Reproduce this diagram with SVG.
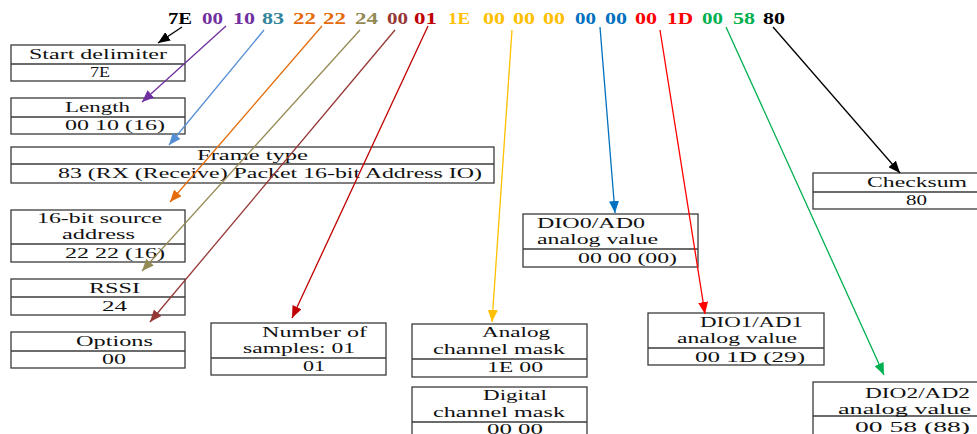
<svg xmlns="http://www.w3.org/2000/svg" width="977" height="434" viewBox="0 0 977 434">
<style>
.box{fill:#fff;stroke:#3a3a3a;stroke-width:1.3}
.div{stroke:#3a3a3a;stroke-width:1.3}
.t{font-family:"Liberation Serif","Times New Roman",serif;font-size:15px;fill:#111}
.h{font-family:"Liberation Serif","Times New Roman",serif;font-size:16px;font-weight:bold}
.c{fill:none;stroke-width:1.3}
</style>
<defs>
<marker id="mk" markerUnits="userSpaceOnUse" markerWidth="12" markerHeight="10" refX="12" refY="5" orient="auto"><path d="M0,0 L12,5 L0,10 z" fill="#000"/></marker>
<marker id="mpu" markerUnits="userSpaceOnUse" markerWidth="12" markerHeight="10" refX="12" refY="5" orient="auto"><path d="M0,0 L12,5 L0,10 z" fill="#7030A0"/></marker>
<marker id="mlb" markerUnits="userSpaceOnUse" markerWidth="12" markerHeight="10" refX="12" refY="5" orient="auto"><path d="M0,0 L12,5 L0,10 z" fill="#558ED5"/></marker>
<marker id="mor" markerUnits="userSpaceOnUse" markerWidth="12" markerHeight="10" refX="12" refY="5" orient="auto"><path d="M0,0 L12,5 L0,10 z" fill="#E46C0A"/></marker>
<marker id="mol" markerUnits="userSpaceOnUse" markerWidth="12" markerHeight="10" refX="12" refY="5" orient="auto"><path d="M0,0 L12,5 L0,10 z" fill="#948A54"/></marker>
<marker id="mbr" markerUnits="userSpaceOnUse" markerWidth="12" markerHeight="10" refX="12" refY="5" orient="auto"><path d="M0,0 L12,5 L0,10 z" fill="#953735"/></marker>
<marker id="mdr" markerUnits="userSpaceOnUse" markerWidth="12" markerHeight="10" refX="12" refY="5" orient="auto"><path d="M0,0 L12,5 L0,10 z" fill="#C00000"/></marker>
<marker id="mgo" markerUnits="userSpaceOnUse" markerWidth="12" markerHeight="10" refX="12" refY="5" orient="auto"><path d="M0,0 L12,5 L0,10 z" fill="#FFC000"/></marker>
<marker id="mbl" markerUnits="userSpaceOnUse" markerWidth="12" markerHeight="10" refX="12" refY="5" orient="auto"><path d="M0,0 L12,5 L0,10 z" fill="#0070C0"/></marker>
<marker id="mre" markerUnits="userSpaceOnUse" markerWidth="12" markerHeight="10" refX="12" refY="5" orient="auto"><path d="M0,0 L12,5 L0,10 z" fill="#FF0000"/></marker>
<marker id="mgr" markerUnits="userSpaceOnUse" markerWidth="12" markerHeight="10" refX="12" refY="5" orient="auto"><path d="M0,0 L12,5 L0,10 z" fill="#00B050"/></marker>
</defs>
<rect width="977" height="434" fill="#fff"/>

<g id="header">
<text class="h" x="168" y="24" textLength="24" lengthAdjust="spacingAndGlyphs" fill="#000">7E</text>
<text class="h" x="202" y="24" textLength="21" lengthAdjust="spacingAndGlyphs" fill="#7030A0">00</text>
<text class="h" x="233" y="24" textLength="22" lengthAdjust="spacingAndGlyphs" fill="#7030A0">10</text>
<text class="h" x="262" y="24" textLength="22" lengthAdjust="spacingAndGlyphs" fill="#31849B">83</text>
<text class="h" x="293" y="24" textLength="23" lengthAdjust="spacingAndGlyphs" fill="#E46C0A">22</text>
<text class="h" x="323" y="24" textLength="23" lengthAdjust="spacingAndGlyphs" fill="#E46C0A">22</text>
<text class="h" x="355" y="24" textLength="23" lengthAdjust="spacingAndGlyphs" fill="#948A54">24</text>
<text class="h" x="387" y="24" textLength="21" lengthAdjust="spacingAndGlyphs" fill="#953735">00</text>
<text class="h" x="414" y="24" textLength="23" lengthAdjust="spacingAndGlyphs" fill="#C00000">01</text>
<text class="h" x="448" y="24" textLength="22" lengthAdjust="spacingAndGlyphs" fill="#FFC000">1E</text>
<text class="h" x="483" y="24" textLength="22" lengthAdjust="spacingAndGlyphs" fill="#FFC000">00</text>
<text class="h" x="513" y="24" textLength="22" lengthAdjust="spacingAndGlyphs" fill="#FFC000">00</text>
<text class="h" x="543" y="24" textLength="22" lengthAdjust="spacingAndGlyphs" fill="#FFC000">00</text>
<text class="h" x="575" y="24" textLength="21" lengthAdjust="spacingAndGlyphs" fill="#0070C0">00</text>
<text class="h" x="605" y="24" textLength="22" lengthAdjust="spacingAndGlyphs" fill="#0070C0">00</text>
<text class="h" x="635" y="24" textLength="22" lengthAdjust="spacingAndGlyphs" fill="#FF0000">00</text>
<text class="h" x="667" y="24" textLength="26" lengthAdjust="spacingAndGlyphs" fill="#FF0000">1D</text>
<text class="h" x="702" y="24" textLength="21" lengthAdjust="spacingAndGlyphs" fill="#00B050">00</text>
<text class="h" x="733" y="24" textLength="22" lengthAdjust="spacingAndGlyphs" fill="#00B050">58</text>
<text class="h" x="763" y="24" textLength="22" lengthAdjust="spacingAndGlyphs" fill="#000">80</text>
</g>

<g id="start-delimiter">
<rect class="box" x="11" y="45" width="174" height="36"/><line class="div" x1="11" y1="64" x2="185" y2="64"/>
<text class="t" x="29" y="59" textLength="138" lengthAdjust="spacingAndGlyphs">Start delimiter</text>
<text class="t" x="90" y="77" textLength="20" lengthAdjust="spacingAndGlyphs">7E</text>
</g>
<g id="length">
<rect class="box" x="11" y="98" width="174" height="36"/><line class="div" x1="11" y1="117" x2="185" y2="117"/>
<text class="t" x="65" y="112" textLength="65" lengthAdjust="spacingAndGlyphs">Length</text>
<text class="t" x="65" y="130" textLength="100" lengthAdjust="spacingAndGlyphs">00 10 (16)</text>
</g>
<g id="frame-type">
<rect class="box" x="11" y="147" width="483" height="36"/><line class="div" x1="11" y1="164" x2="494" y2="164"/>
<text class="t" x="197" y="160" textLength="111" lengthAdjust="spacingAndGlyphs">Frame type</text>
<text class="t" x="58" y="178" textLength="424" lengthAdjust="spacingAndGlyphs">83 (RX (Receive) Packet 16-bit Address IO)</text>
</g>
<g id="source-address">
<rect class="box" x="11" y="210" width="174" height="52"/><line class="div" x1="11" y1="244" x2="185" y2="244"/>
<text class="t" x="37" y="223" textLength="125" lengthAdjust="spacingAndGlyphs">16-bit source</text>
<text class="t" x="62" y="239" textLength="73" lengthAdjust="spacingAndGlyphs">address</text>
<text class="t" x="65" y="258" textLength="100" lengthAdjust="spacingAndGlyphs">22 22 (16)</text>
</g>
<g id="rssi">
<rect class="box" x="11" y="279" width="174" height="36"/><line class="div" x1="11" y1="297" x2="185" y2="297"/>
<text class="t" x="89" y="293" textLength="51" lengthAdjust="spacingAndGlyphs">RSSI</text>
<text class="t" x="102" y="311" textLength="25" lengthAdjust="spacingAndGlyphs">24</text>
</g>
<g id="options">
<rect class="box" x="11" y="332" width="174" height="36"/><line class="div" x1="11" y1="351" x2="185" y2="351"/>
<text class="t" x="76" y="346" textLength="77" lengthAdjust="spacingAndGlyphs">Options</text>
<text class="t" x="102" y="364" textLength="24" lengthAdjust="spacingAndGlyphs">00</text>
</g>
<g id="num-samples">
<rect class="box" x="211" y="323" width="175" height="52"/><line class="div" x1="211" y1="358" x2="386" y2="358"/>
<text class="t" x="262" y="337" textLength="105" lengthAdjust="spacingAndGlyphs">Number of</text>
<text class="t" x="243" y="353" textLength="112" lengthAdjust="spacingAndGlyphs">samples: 01</text>
<text class="t" x="303" y="371" textLength="22" lengthAdjust="spacingAndGlyphs">01</text>
</g>
<g id="analog-mask">
<rect class="box" x="412" y="324" width="175" height="53"/><line class="div" x1="412" y1="359" x2="587" y2="359"/>
<text class="t" x="482" y="337" textLength="68" lengthAdjust="spacingAndGlyphs">Analog</text>
<text class="t" x="433" y="354" textLength="132" lengthAdjust="spacingAndGlyphs">channel mask</text>
<text class="t" x="487" y="372" textLength="56" lengthAdjust="spacingAndGlyphs">1E 00</text>
</g>
<g id="digital-mask">
<rect class="box" x="412" y="387" width="175" height="60"/><line class="div" x1="412" y1="422" x2="587" y2="422"/>
<text class="t" x="483" y="400" textLength="64" lengthAdjust="spacingAndGlyphs">Digital</text>
<text class="t" x="433" y="417" textLength="132" lengthAdjust="spacingAndGlyphs">channel mask</text>
<text class="t" x="487" y="434" textLength="56" lengthAdjust="spacingAndGlyphs">00 00</text>
</g>
<g id="dio0">
<rect class="box" x="523" y="214" width="175" height="53"/><line class="div" x1="523" y1="249" x2="698" y2="249"/>
<text class="t" x="537" y="228" textLength="108" lengthAdjust="spacingAndGlyphs">DIO0/AD0</text>
<text class="t" x="537" y="244" textLength="121" lengthAdjust="spacingAndGlyphs">analog value</text>
<text class="t" x="578" y="263" textLength="99" lengthAdjust="spacingAndGlyphs">00 00 (00)</text>
</g>
<g id="dio1">
<rect class="box" x="648" y="313" width="176" height="52"/><line class="div" x1="648" y1="348" x2="824" y2="348"/>
<text class="t" x="700" y="327" textLength="103" lengthAdjust="spacingAndGlyphs">DIO1/AD1</text>
<text class="t" x="677" y="343" textLength="120" lengthAdjust="spacingAndGlyphs">analog value</text>
<text class="t" x="695" y="362" textLength="110" lengthAdjust="spacingAndGlyphs">00 1D (29)</text>
</g>
<g id="checksum">
<rect class="box" x="813" y="173" width="170" height="36"/><line class="div" x1="813" y1="192" x2="983" y2="192"/>
<text class="t" x="867" y="187" textLength="100" lengthAdjust="spacingAndGlyphs">Checksum</text>
<text class="t" x="906" y="205" textLength="21" lengthAdjust="spacingAndGlyphs">80</text>
</g>
<g id="dio2">
<rect class="box" x="813" y="382" width="170" height="60"/><line class="div" x1="813" y1="416" x2="983" y2="416"/>
<text class="t" x="865" y="398" textLength="105" lengthAdjust="spacingAndGlyphs">DIO2/AD2</text>
<text class="t" x="838" y="414" textLength="133" lengthAdjust="spacingAndGlyphs">analog value</text>
<text class="t" x="855" y="432" textLength="115" lengthAdjust="spacingAndGlyphs">00 58 (88)</text>
</g>

<g id="connectors">
<line class="c" x1="182" y1="27" x2="158" y2="43" stroke="#000" marker-end="url(#mk)"/>
<line class="c" x1="226" y1="26" x2="142" y2="102" stroke="#7030A0" marker-end="url(#mpu)"/>
<line class="c" x1="264" y1="30" x2="169" y2="145" stroke="#558ED5" marker-end="url(#mlb)"/>
<line class="c" x1="322" y1="26" x2="170" y2="202" stroke="#E46C0A" marker-end="url(#mor)"/>
<line class="c" x1="360" y1="30" x2="142" y2="271" stroke="#948A54" marker-end="url(#mol)"/>
<line class="c" x1="395" y1="30" x2="150" y2="322" stroke="#953735" marker-end="url(#mbr)"/>
<line class="c" x1="428" y1="26" x2="292" y2="318" stroke="#C00000" marker-end="url(#mdr)"/>
<line class="c" x1="512" y1="30" x2="492" y2="322" stroke="#FFC000" marker-end="url(#mgo)"/>
<line class="c" x1="600" y1="27" x2="615" y2="213" stroke="#0070C0" marker-end="url(#mbl)"/>
<line class="c" x1="660" y1="30" x2="705" y2="314" stroke="#FF0000" marker-end="url(#mre)"/>
<line class="c" x1="726" y1="27" x2="884" y2="375" stroke="#00B050" marker-end="url(#mgr)"/>
<line class="c" x1="773" y1="27" x2="900" y2="173" stroke="#000" marker-end="url(#mk)"/>
</g>
</svg>
